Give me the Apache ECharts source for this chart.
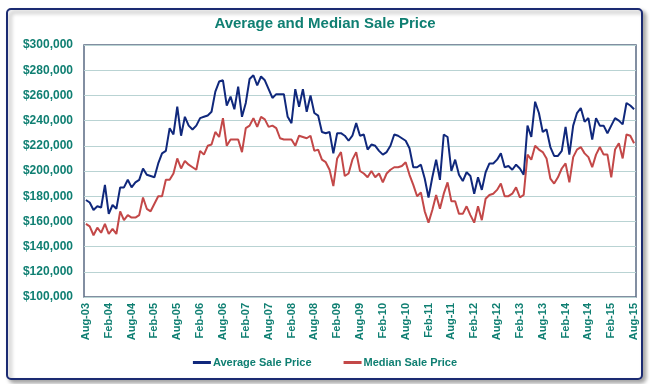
<!DOCTYPE html>
<html><head><meta charset="utf-8">
<script src="https://cdn.jsdelivr.net/npm/echarts@6/dist/echarts.min.js"></script>
<style>html,body{margin:0;padding:0;background:#fff}#c{width:650px;height:384px}</style>
</head><body><div id="c"></div>
<script>
// Monthly categories Aug-03 .. Aug-15
var monthNames = ['Jan','Feb','Mar','Apr','May','Jun','Jul','Aug','Sep','Oct','Nov','Dec'];
var categories = [];
for (var k = 0; k < 145; k++) {
  var m = (7 + k) % 12, y = 3 + Math.floor((7 + k) / 12);
  categories.push(monthNames[m] + '-' + (y < 10 ? '0' + y : '' + y));
}
// values in $ thousands
var averageSalePrice = [
177,175,169,172,171,189,166,173,170,187,187,193,187,191,193,202,197,196,195,206,214,216,234,229,251,
228,243,236,233,236,242,243,244,247,263,271,272,252,259,249,267,243,254,273,276,268,275,272,265,
258,261,261,261,243,238,265,251,265,247,260,246,244,231,230,231,214,230,230,228,224,228,238,228,
229,217,221,220,216,213,215,220,229,228,226,224,218,203,203,205,194,179,195,209,193,229,227,200,
209,197,192,199,196,182,195,185,199,206,206,209,214,203,204,201,205,202,197,236,227,255,246,231,
233,219,212,212,216,235,213,236,246,250,239,242,225,242,236,236,230,236,242,240,237,254,252,249
];
var medianSalePrice = [
158,156,149,155,151,158,150,154,150,168,161,165,163,163,165,179,170,168,174,180,180,193,193,198,210,
202,208,205,203,201,216,213,220,221,231,227,242,220,225,225,225,215,234,236,242,235,243,241,235,
236,234,226,225,225,225,220,228,227,226,228,216,217,209,207,201,188,210,215,196,198,209,215,200,
198,195,200,195,198,191,198,201,203,203,204,207,197,189,180,183,168,159,169,181,170,182,191,176,
176,166,166,172,165,159,172,161,178,181,182,185,190,180,180,182,187,179,181,213,209,220,217,215,
210,194,190,195,202,206,191,211,217,219,214,211,203,213,219,213,213,195,217,222,210,229,228,222
];
var yTicks = [100000,120000,140000,160000,180000,200000,220000,240000,260000,280000,300000];

var teal = '#0f7f72';
var chart = echarts.init(document.getElementById('c'));
chart.setOption({
  animation: false,
  graphic: [{
    type: 'rect', left: 6, top: 8, z: -10,
    shape: {width: 635, height: 370, r: 4},
    style: {fill: '#fff', stroke: '#1b2b72', lineWidth: 2,
      shadowBlur: 4, shadowOffsetX: 3, shadowOffsetY: 3, shadowColor: 'rgba(0,0,0,0.35)'}
  }],
  title: {
    text: 'Average and Median Sale Price', left: 'center', top: 11,
    textStyle: {color: teal, fontFamily: 'Liberation Sans', fontWeight: 'bold', fontSize: 15}
  },
  legend: {
    bottom: 11, left: 'center', itemGap: 32, itemWidth: 18, itemHeight: 3, icon: 'rect',
    textStyle: {color: teal, fontFamily: 'Liberation Sans', fontWeight: 'bold', fontSize: 11, padding: [0, 0, 0, -3]},
    data: ['Average Sale Price', 'Median Sale Price']
  },
  grid: {left: 84, right: 14, top: 45, bottom: 87, show: true, borderColor: '#5a6a82', borderWidth: 1.5, containLabel: false},
  xAxis: {
    type: 'category', data: categories, boundaryGap: true,
    axisLine: {show: false}, axisTick: {show: false},
    axisLabel: {interval: 5, rotate: 90, color: teal, fontFamily: 'Liberation Sans', fontWeight: 'bold', fontSize: 11, margin: 6}
  },
  yAxis: {
    type: 'value', min: yTicks[0], max: yTicks[yTicks.length - 1], interval: 20000,
    axisLine: {show: false}, axisTick: {show: false},
    splitLine: {lineStyle: {color: '#b9d3d3', width: 1.2}},
    axisLabel: {color: teal, fontFamily: 'Liberation Sans', fontWeight: 'bold', fontSize: 12, margin: 11,
      formatter: function (v) { return '$' + v.toLocaleString('en-US'); }}
  },
  series: [
    {name: 'Average Sale Price', type: 'line', data: averageSalePrice.map(function (v) { return v * 1000; }),
      symbol: 'none', lineStyle: {color: '#10287c', width: 2}, itemStyle: {color: '#10287c'}},
    {name: 'Median Sale Price', type: 'line', data: medianSalePrice.map(function (v) { return v * 1000; }),
      symbol: 'none', lineStyle: {color: '#c34848', width: 2}, itemStyle: {color: '#c34848'}}
  ]
});
</script></body></html>
